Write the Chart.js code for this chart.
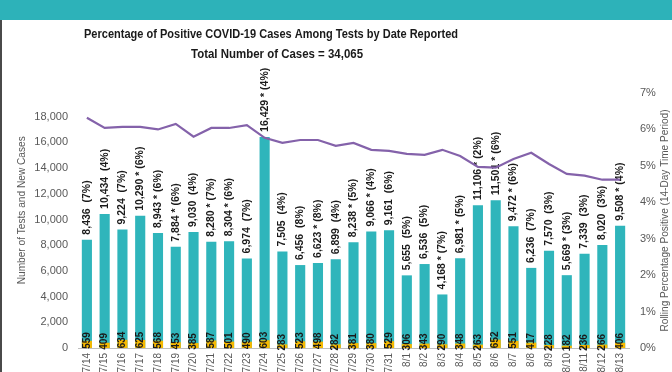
<!DOCTYPE html>
<html>
<head>
<meta charset="utf-8">
<script src="https://cdn.jsdelivr.net/npm/chart.js@4"></script>
<style>
  html, body { margin: 0; padding: 0; background: #fff; }
  #wrap { position: relative; width: 672px; height: 372px; overflow: hidden; }
  #topbar { position: absolute; left: 0; top: 0; width: 672px; height: 20px; background: #2db2b9; }
  #edge { position: absolute; left: 0; top: 20px; width: 2px; height: 352px; background: #4a4a4a; }
</style>
</head>
<body>
<div id="wrap">
  <canvas id="positivityChart" width="672" height="372"></canvas>
  <div id="topbar"></div>
  <div id="edge"></div>
</div>
<script>
// Daily tests, new cases and rolling positivity, 7/14 - 8/13
const dates = ['7/14','7/15','7/16','7/17','7/18','7/19','7/20','7/21','7/22','7/23','7/24',
  '7/25','7/26','7/27','7/28','7/29','7/30','7/31','8/1','8/2','8/3','8/4','8/5','8/6',
  '8/7','8/8','8/9','8/10','8/11','8/12','8/13'];
const tests = [8436, 10434, 9224, 10290, 8943, 7884, 9030, 8280, 8304, 6974, 16429,
  7505, 6456, 6623, 6899, 8238, 9066, 9161, 5655, 6536, 4168, 6981, 11106, 11501,
  9472, 6236, 7570, 5669, 7339, 8020, 9508];
const cases = [559, 409, 634, 625, 568, 453, 385, 587, 501, 490, 603,
  283, 523, 498, 282, 381, 380, 529, 306, 343, 290, 348, 263, 652,
  551, 417, 228, 182, 236, 266, 406];
// the " * " marker shown after some test counts
const starred = [0,0,0,1,1,1,0,1,1,0,1, 0,0,1,0,1,1,0,0,0,1,1,1,1, 1,0,0,1,0,0,1];
const dailyPct = [7,4,7,6,6,6,4,7,6,7,4, 4,8,8,4,5,4,6,5,5,7,5,2,6, 6,7,3,3,3,3,4];
const rollingPct = [6.32, 6.04, 6.07, 6.07, 6.0, 6.15, 5.8, 6.04, 6.04, 6.12, 5.77,
  5.63, 5.71, 5.71, 5.55, 5.63, 5.44, 5.41, 5.33, 5.3, 5.44, 5.27, 4.97, 4.95,
  5.19, 5.36, 5.05, 4.78, 4.73, 4.62, 4.62];
const leftTicks = [0, 2000, 4000, 6000, 8000, 10000, 12000, 14000, 16000, 18000];

const titleLines = ['Percentage of Positive COVID-19 Cases Among Tests by Date Reported',
                    'Total Number of Cases = 34,065'];
const leftTitle = 'Number of Tests and New Cases';
const rightTitle = 'Rolling Percentage Positive (14-Day Time Period)';

const fontFamily = '"Liberation Sans", Arial, sans-serif';
const tickColor = '#595959';

// Chart title and axis titles, squeezed to the narrow widths of the original
const titles = {
    id: 'titles',
    afterDraw(chart) {
        const c = chart.ctx;
        const area = chart.chartArea;
        c.save();
        c.textAlign = 'center';
        c.textBaseline = 'middle';
        c.fillStyle = '#1a1a1a';
        c.font = 'bold 13.5px ' + fontFamily;
        c.fillText(titleLines[0], 271, 34, 374);
        c.fillText(titleLines[1], 277, 54, 172);

        c.fillStyle = tickColor;
        c.font = '11px ' + fontFamily;
        c.save();
        c.translate(22, area.top + (area.bottom - area.top) * 0.46);
        c.rotate(-Math.PI / 2);
        c.fillText(leftTitle, 0, 0, 148);
        c.restore();

        c.save();
        c.translate(665, (area.top + area.bottom) / 2);
        c.rotate(-Math.PI / 2);
        c.fillText(rightTitle, 0, 0, 222);
        c.restore();
        c.restore();
    }
};

// Rotated value labels drawn right after each bar dataset
const barLabels = {
    id: 'barLabels',
    afterDatasetDraw(chart, args) {
        const c = chart.ctx;
        const meta = args.meta;
        if (meta.type !== 'bar') return;
        c.save();
        c.fillStyle = '#1a1a1a';
        c.textBaseline = 'middle';
        c.font = 'bold 10.5px ' + fontFamily;
        meta.data.forEach(function(bar, i) {
            c.save();
            if (args.index === 0) {
                const text = tests[i].toLocaleString('en-US') + (starred[i] ? ' * ' : '  ') + '(' + dailyPct[i] + '%)';
                c.translate(bar.x, bar.y - 5);
                c.rotate(-Math.PI / 2);
                c.textAlign = 'left';
                c.fillText(text, 0, 0);
            } else {
                c.translate(bar.x, (bar.y + bar.base) / 2 - 4);
                c.rotate(-Math.PI / 2);
                c.textAlign = 'center';
                c.font = 'bold 10px ' + fontFamily;
                c.fillText(String(cases[i]), 0, 0);
            }
            c.restore();
        });
        c.restore();
    }
};

const ctx = document.getElementById('positivityChart').getContext('2d');
const positivityChart = new Chart(ctx, {
    type: 'bar',
    data: {
        labels: dates,
        datasets: [{
            label: 'Tests',
            data: tests,
            backgroundColor: '#2fb5bb',
            grouped: false,
            barPercentage: 0.57,
            categoryPercentage: 1,
            order: 3,
            yAxisID: 'y'
        }, {
            label: 'New Cases',
            data: cases,
            backgroundColor: '#f6b900',
            grouped: false,
            barPercentage: 0.57,
            categoryPercentage: 1,
            order: 2,
            yAxisID: 'y'
        }, {
            label: 'Rolling Percentage Positive',
            type: 'line',
            data: rollingPct,
            borderColor: '#8462aa',
            borderWidth: 2.2,
            pointRadius: 0,
            tension: 0,
            order: 1,
            yAxisID: 'y1'
        }]
    },
    options: {
        responsive: false,
        animation: false,
        devicePixelRatio: 1,
        layout: { padding: { top: 93, left: 0, right: 0, bottom: 0 } },
        plugins: {
            legend: { display: false },
            tooltip: { enabled: false },
            title: { display: false }
        },
        scales: {
            x: {
                grid: { display: false, drawTicks: false },
                border: { display: true, color: '#bfbfbf', width: 1 },
                ticks: {
                    color: tickColor,
                    font: { size: 10, family: fontFamily },
                    minRotation: 90,
                    maxRotation: 90,
                    padding: 5,
                    autoSkip: false
                },
                afterFit(scale) { scale.height = 24; }
            },
            y: {
                position: 'left',
                min: 0,
                max: 19850,
                grid: { display: false, drawTicks: false },
                border: { display: false },
                afterBuildTicks(scale) {
                    scale.ticks = leftTicks.map(function(v) { return { value: v }; });
                },
                ticks: {
                    color: tickColor,
                    font: { size: 11, family: fontFamily },
                    padding: 10,
                    callback: function(v) { return v.toLocaleString('en-US'); }
                },
                afterFit(scale) { scale.width = 78; }
            },
            y1: {
                position: 'right',
                min: 0,
                max: 7,
                grid: { display: false, drawTicks: false },
                border: { display: false },
                ticks: {
                    stepSize: 1,
                    color: tickColor,
                    font: { size: 11, family: fontFamily },
                    padding: 11,
                    callback: function(v) { return v + '%'; }
                },
                afterFit(scale) { scale.width = 43; }
            }
        }
    },
    plugins: [barLabels, titles]
});
</script>
</body>
</html>
